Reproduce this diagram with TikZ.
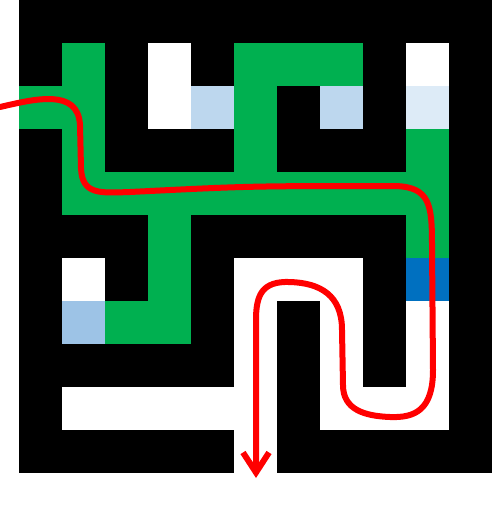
\documentclass[tikz,border=0pt]{standalone}
\usetikzlibrary{arrows.meta}
\definecolor{mgreen}{HTML}{00B050}
\definecolor{lblue}{HTML}{BDD7EE}
\definecolor{vlblue}{HTML}{DDEBF7}
\definecolor{mblue}{HTML}{9DC3E6}
\definecolor{dblue}{HTML}{0070C0}
\definecolor{mred}{HTML}{FF0000}
\newcommand\mzcell[3]{\fill[#3] ({19+43*#1},{43*#2}) rectangle +(43,43);}
\begin{document}
\begin{tikzpicture}[x=1pt,y=-1pt]
\useasboundingbox (0,0) rectangle (492,509);
\fill[white] (0,0) rectangle (492,509);
\fill[black] (19,0) rectangle (492,473);
% row 1
\mzcell{1}{1}{mgreen}\mzcell{3}{1}{white}\mzcell{5}{1}{mgreen}\mzcell{6}{1}{mgreen}\mzcell{7}{1}{mgreen}\mzcell{9}{1}{white}
% row 2
\mzcell{0}{2}{mgreen}\mzcell{1}{2}{mgreen}\mzcell{3}{2}{white}\mzcell{4}{2}{lblue}\mzcell{5}{2}{mgreen}\mzcell{7}{2}{lblue}\mzcell{9}{2}{vlblue}
% row 3
\mzcell{1}{3}{mgreen}\mzcell{5}{3}{mgreen}\mzcell{9}{3}{mgreen}
% row 4
\foreach \c in {1,...,9} {\mzcell{\c}{4}{mgreen}}
% row 5
\mzcell{3}{5}{mgreen}\mzcell{9}{5}{mgreen}
% row 6
\mzcell{1}{6}{white}\mzcell{3}{6}{mgreen}\mzcell{5}{6}{white}\mzcell{6}{6}{white}\mzcell{7}{6}{white}\mzcell{9}{6}{dblue}
% row 7
\mzcell{1}{7}{mblue}\mzcell{2}{7}{mgreen}\mzcell{3}{7}{mgreen}\mzcell{5}{7}{white}\mzcell{7}{7}{white}\mzcell{9}{7}{white}
% row 8
\mzcell{5}{8}{white}\mzcell{7}{8}{white}\mzcell{9}{8}{white}
% row 9
\foreach \c in {1,...,5} {\mzcell{\c}{9}{white}}
\mzcell{7}{9}{white}\mzcell{8}{9}{white}\mzcell{9}{9}{white}
% row 10
\mzcell{5}{10}{white}
% red path
\draw[mred, line width=6pt, line cap=round, line join=round,
  -{Straight Barb[length=20pt, width=26pt, line width=6pt]}]
  (0,107) .. controls (35,99) and (78,88) .. (80,125)
  -- (81,168) .. controls (82,195) and (100,193) .. (130,192)
  .. controls (250,186) .. (395,186)
  .. controls (430,187) and (432,205) .. (432,245)
  -- (433,370) .. controls (433,410) and (415,418) .. (390,417)
  .. controls (365,416) and (343,410) .. (343,385)
  -- (342,330) .. controls (342,295) and (320,283) .. (290,282)
  .. controls (262,281) and (256,295) .. (256,320)
  -- (256,478);
\end{tikzpicture}
\end{document}
